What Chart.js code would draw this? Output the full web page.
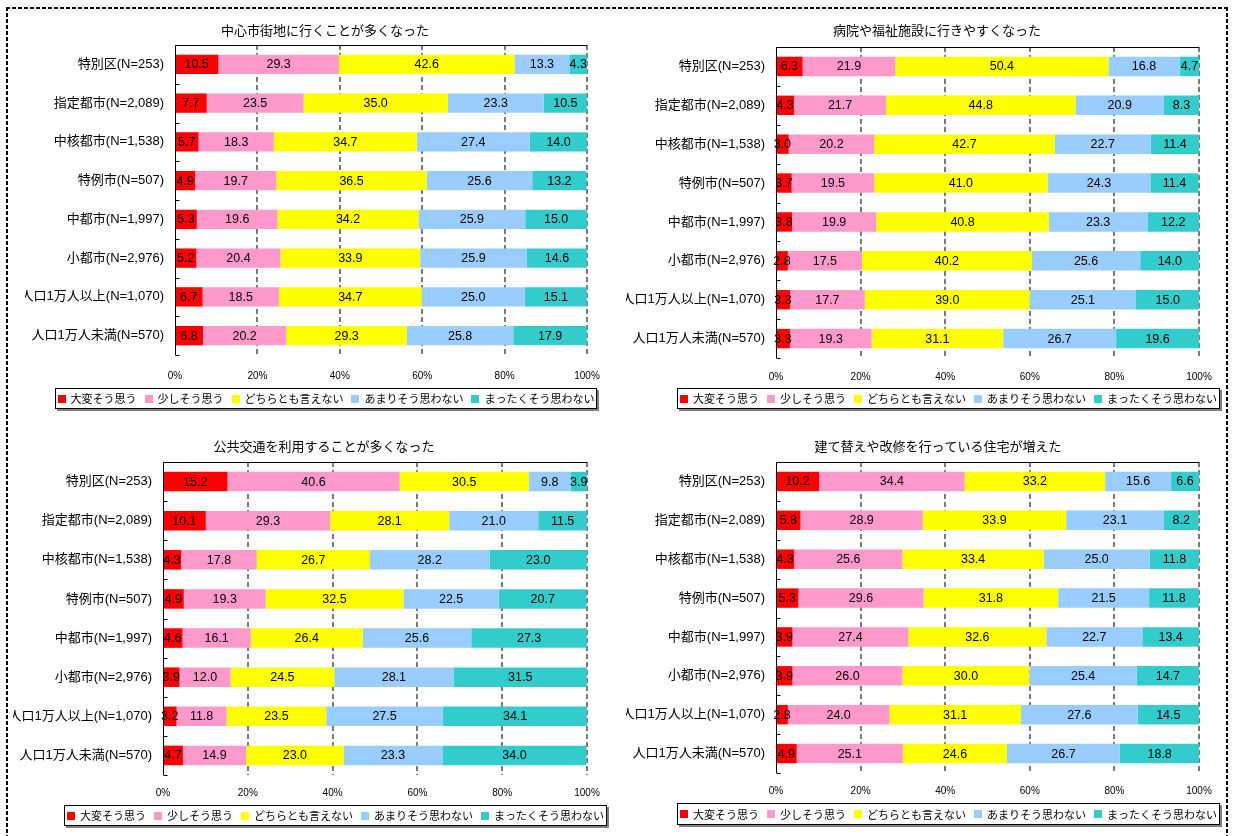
<!DOCTYPE html>
<html lang="ja">
<head>
<meta charset="utf-8">
<title>地域別の変化に関する意識</title>
<script src="https://cdn.jsdelivr.net/npm/chart.js@4.4.1/dist/chart.umd.min.js"></script>
<style>
  html, body { margin: 0; padding: 0; background: #fff; }
  body { width: 1235px; height: 836px; position: relative; overflow: hidden; }
  canvas { position: absolute; left: 0; top: 0; }
  .frame { position: absolute; }
  .fh { height: 2px; background: repeating-linear-gradient(to right, #000 0 4px, transparent 4px 6px); }
  .fv { width: 2px; background: repeating-linear-gradient(to bottom, #000 0 4px, transparent 4px 6px); }
</style>
</head>
<body>
<div class="frame fh" style="left:6px;top:7px;width:1222px"></div>
<div class="frame fv" style="left:6px;top:7px;height:829px"></div>
<div class="frame fv" style="left:1226px;top:7px;height:829px"></div>
<canvas id="downtown" width="1235" height="836"></canvas>
<canvas id="hospital" width="1235" height="836"></canvas>
<canvas id="transit" width="1235" height="836"></canvas>
<canvas id="housing" width="1235" height="836"></canvas>
<script>
// ---- data ----
const categories = [
  '特別区(N=253)', '指定都市(N=2,089)', '中核都市(N=1,538)', '特例市(N=507)',
  '中都市(N=1,997)', '小都市(N=2,976)', '人口1万人以上(N=1,070)', '人口1万人未満(N=570)'
];
const answerLabels = ['大変そう思う', '少しそう思う', 'どちらとも言えない', 'あまりそう思わない', 'まったくそう思わない'];

// 中心市街地に行くことが多くなった
const downtownTitle = '中心市街地に行くことが多くなった';
const downtownStrong   = [10.5, 7.7, 5.7, 4.9, 5.3, 5.2, 6.7, 6.8];
const downtownSome     = [29.3, 23.5, 18.3, 19.7, 19.6, 20.4, 18.5, 20.2];
const downtownNeutral  = [42.6, 35.0, 34.7, 36.5, 34.2, 33.9, 34.7, 29.3];
const downtownNotMuch  = [13.3, 23.3, 27.4, 25.6, 25.9, 25.9, 25.0, 25.8];
const downtownNotAtAll = [4.3, 10.5, 14.0, 13.2, 15.0, 14.6, 15.1, 17.9];

// 病院や福祉施設に行きやすくなった
const hospitalTitle = '病院や福祉施設に行きやすくなった';
const hospitalStrong   = [6.3, 4.3, 3.0, 3.7, 3.8, 2.8, 3.3, 3.3];
const hospitalSome     = [21.9, 21.7, 20.2, 19.5, 19.9, 17.5, 17.7, 19.3];
const hospitalNeutral  = [50.4, 44.8, 42.7, 41.0, 40.8, 40.2, 39.0, 31.1];
const hospitalNotMuch  = [16.8, 20.9, 22.7, 24.3, 23.3, 25.6, 25.1, 26.7];
const hospitalNotAtAll = [4.7, 8.3, 11.4, 11.4, 12.2, 14.0, 15.0, 19.6];

// 公共交通を利用することが多くなった
const transitTitle = '公共交通を利用することが多くなった';
const transitStrong   = [15.2, 10.1, 4.3, 4.9, 4.6, 3.9, 3.2, 4.7];
const transitSome     = [40.6, 29.3, 17.8, 19.3, 16.1, 12.0, 11.8, 14.9];
const transitNeutral  = [30.5, 28.1, 26.7, 32.5, 26.4, 24.5, 23.5, 23.0];
const transitNotMuch  = [9.8, 21.0, 28.2, 22.5, 25.6, 28.1, 27.5, 23.3];
const transitNotAtAll = [3.9, 11.5, 23.0, 20.7, 27.3, 31.5, 34.1, 34.0];

// 建て替えや改修を行っている住宅が増えた
const housingTitle = '建て替えや改修を行っている住宅が増えた';
const housingStrong   = [10.2, 5.8, 4.3, 5.3, 3.9, 3.9, 2.8, 4.9];
const housingSome     = [34.4, 28.9, 25.6, 29.6, 27.4, 26.0, 24.0, 25.1];
const housingNeutral  = [33.2, 33.9, 33.4, 31.8, 32.6, 30.0, 31.1, 24.6];
const housingNotMuch  = [15.6, 23.1, 25.0, 21.5, 22.7, 25.4, 27.6, 26.7];
const housingNotAtAll = [6.6, 8.2, 11.8, 11.8, 13.4, 14.7, 14.5, 18.8];

// ---- styles ----
const answerColors = ['#FF0000', '#FF99CC', '#FFFF00', '#99CCFF', '#33CCCC'];
const FONT_JP = '"Noto Sans CJK JP", sans-serif';
const FONT_MIX = '"Liberation Sans", "Noto Sans CJK JP", sans-serif';
const Y_AXIS_W = 150;
const X_AXIS_H = 30;

// frame, gridlines, value labels, title and legend of one panel
function panelDecor(title, box) {
  return {
    id: 'panelDecor',
    beforeDatasetsDraw(chart) {
      const { ctx, chartArea: a, scales: { x } } = chart;
      ctx.save();
      ctx.strokeStyle = '#333';
      ctx.lineWidth = 1.3;
      ctx.setLineDash([5, 3]);
      x.ticks.forEach(t => {
        if (t.value === 0) return;
        const px = Math.round(x.getPixelForValue(t.value));
        ctx.beginPath();
        ctx.moveTo(px, a.top);
        ctx.lineTo(px, a.bottom);
        ctx.stroke();
      });
      ctx.restore();
    },
    afterDatasetsDraw(chart) {
      const { ctx, chartArea: a, scales: { y } } = chart;
      ctx.save();
      // value labels
      ctx.font = '12.5px "Liberation Sans", sans-serif';
      ctx.fillStyle = '#000';
      ctx.textAlign = 'center';
      ctx.textBaseline = 'middle';
      chart.data.datasets.forEach((ds, di) => {
        chart.getDatasetMeta(di).data.forEach((bar, i) => {
          const p = bar.getProps(['x', 'y', 'base'], true);
          ctx.fillText(ds.data[i].toFixed(1), (p.x + p.base) / 2, p.y + 0.5);
        });
      });
      // top border and left axis with inner category ticks
      ctx.strokeStyle = '#000';
      ctx.lineWidth = 1;
      const left = Math.round(a.left) + 0.5;
      const top = Math.round(a.top) + 0.5;
      ctx.beginPath();
      ctx.moveTo(left, top);
      ctx.lineTo(Math.round(a.right), top);
      ctx.moveTo(left, top);
      ctx.lineTo(left, Math.round(a.bottom));
      const half = (y.getPixelForValue(1) - y.getPixelForValue(0)) / 2;
      for (let i = 0; i <= categories.length; i++) {
        const py = Math.round(y.getPixelForValue(i) - half) + 0.5;
        ctx.moveTo(left, py);
        ctx.lineTo(left + 4, py);
      }
      ctx.stroke();
      ctx.restore();
    },
    afterDraw(chart) {
      const ctx = chart.ctx;
      ctx.save();
      // title
      ctx.font = '13px ' + FONT_JP;
      ctx.fillStyle = '#000';
      ctx.textAlign = 'center';
      ctx.textBaseline = 'middle';
      ctx.fillText(title, box.titleX, box.titleY);
      // legend box with drop shadow
      const lg = box.legend;
      ctx.fillStyle = '#808080';
      ctx.fillRect(lg.x + 2, lg.y + 2, lg.w, lg.h);
      ctx.fillStyle = '#fff';
      ctx.fillRect(lg.x, lg.y, lg.w, lg.h);
      ctx.strokeStyle = '#000';
      ctx.lineWidth = 1;
      ctx.strokeRect(lg.x + 0.5, lg.y + 0.5, lg.w - 1, lg.h - 1);
      ctx.font = '11px ' + FONT_JP;
      ctx.textAlign = 'left';
      const sw = 8, sgap = 5, igap = 8;
      const items = chart.data.datasets.map(ds => ({ text: ds.label, color: ds.backgroundColor, w: ctx.measureText(ds.label).width }));
      const total = items.reduce((s, it) => s + sw + sgap + it.w, 0) + igap * (items.length - 1);
      let cx = lg.x + (lg.w - total) / 2;
      const cy = lg.y + lg.h / 2;
      items.forEach(it => {
        ctx.fillStyle = it.color;
        ctx.fillRect(Math.round(cx), Math.round(cy - 4), sw, sw);
        ctx.fillStyle = '#000';
        ctx.fillText(it.text, cx + sw + sgap, cy + 0.5);
        cx += sw + sgap + it.w + igap;
      });
      ctx.restore();
    }
  };
}

function drawPanel(canvasId, title, series, box) {
  new Chart(document.getElementById(canvasId), {
    type: 'bar',
    data: {
      labels: categories,
      datasets: series.map((values, i) => ({
        label: answerLabels[i],
        data: values,
        backgroundColor: answerColors[i],
        borderWidth: 0,
        barPercentage: 0.5,
        categoryPercentage: 1
      }))
    },
    options: {
      indexAxis: 'y',
      responsive: false,
      animation: false,
      events: [],
      layout: {
        padding: {
          left: box.left - Y_AXIS_W,
          right: 1235 - box.right,
          top: box.top,
          bottom: 836 - box.bottom - X_AXIS_H
        }
      },
      plugins: { legend: { display: false }, title: { display: false }, tooltip: { enabled: false } },
      scales: {
        x: {
          stacked: true, min: 0, max: 100,
          ticks: {
            stepSize: 20, maxRotation: 0, autoSkip: false,
            callback: v => v + '%',
            font: { family: FONT_MIX, size: 10 }, color: '#000',
            padding: box.xPad
          },
          grid: { display: false, drawTicks: false },
          border: { display: false },
          afterFit: s => { s.height = X_AXIS_H; s.paddingLeft = 0; s.paddingRight = 0; }
        },
        y: {
          stacked: true,
          ticks: { font: { family: FONT_MIX, size: 13 }, color: '#000', padding: 11 },
          grid: { display: false, drawTicks: false },
          border: { display: false },
          afterFit: s => { s.width = Y_AXIS_W; s.paddingTop = 0; s.paddingBottom = 0; }
        }
      }
    },
    plugins: [panelDecor(title, box)]
  });
}

drawPanel('downtown', downtownTitle,
  [downtownStrong, downtownSome, downtownNeutral, downtownNotMuch, downtownNotAtAll],
  { left: 175, right: 587, top: 45, bottom: 355, xPad: 15, titleX: 325, titleY: 30,
    legend: { x: 55, y: 388, w: 542, h: 21 } });

drawPanel('hospital', hospitalTitle,
  [hospitalStrong, hospitalSome, hospitalNeutral, hospitalNotMuch, hospitalNotAtAll],
  { left: 776, right: 1199, top: 47, bottom: 358, xPad: 13, titleX: 937, titleY: 30,
    legend: { x: 677, y: 388, w: 543, h: 21 } });

drawPanel('transit', transitTitle,
  [transitStrong, transitSome, transitNeutral, transitNotMuch, transitNotAtAll],
  { left: 163, right: 587, top: 462, bottom: 775, xPad: 12, titleX: 324, titleY: 446,
    legend: { x: 64, y: 805, w: 543, h: 21 } });

drawPanel('housing', housingTitle,
  [housingStrong, housingSome, housingNeutral, housingNotMuch, housingNotAtAll],
  { left: 776, right: 1199, top: 462, bottom: 773, xPad: 12, titleX: 938, titleY: 446,
    legend: { x: 677, y: 803, w: 543, h: 22 } });
</script>
</body>
</html>
